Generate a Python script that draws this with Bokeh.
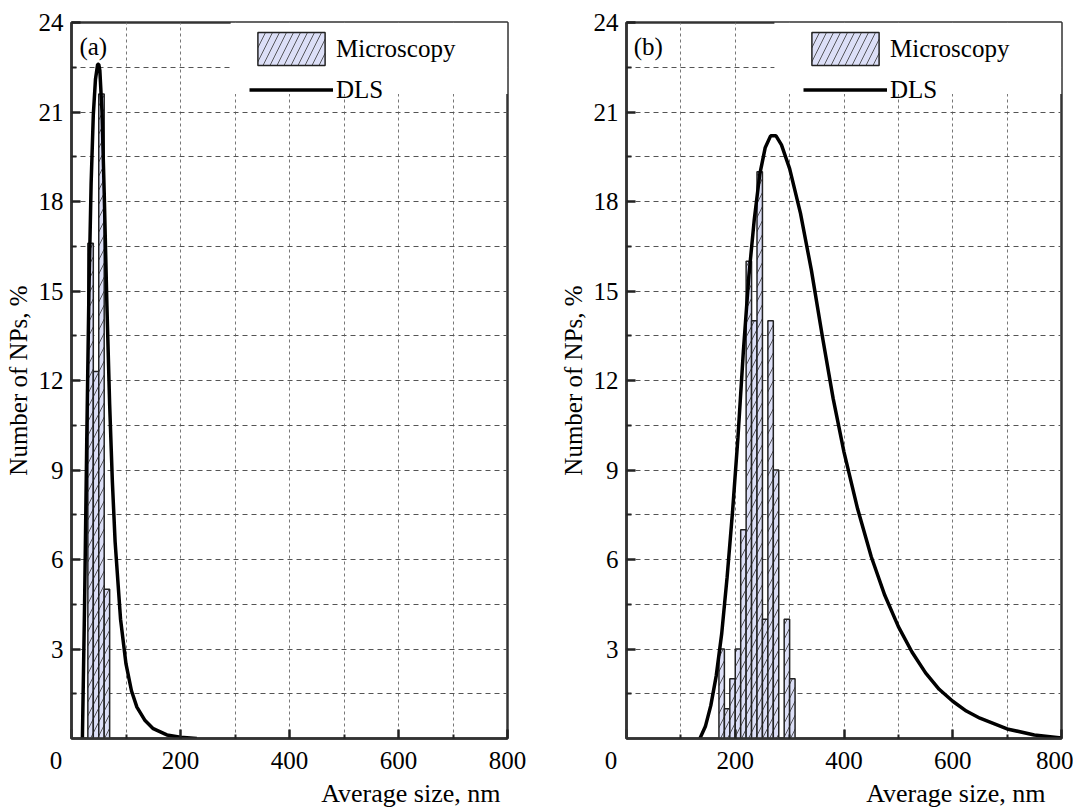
from bokeh.plotting import figure
from bokeh.layouts import row
from bokeh.models import Range1d, FixedTicker, Label, Legend, LegendItem, Title, BoxAnnotation
from bokeh.embed import file_html
from bokeh.resources import INLINE

# ---------------- data ----------------
# Panel (a): microscopy histogram (bin centres, nm) and DLS distribution
a_bin_centers = [35, 45, 55, 65]
a_counts = [16.6, 12.3, 21.6, 5.0]
a_dls_size = [20, 24, 28, 32, 36, 40, 44, 48, 50, 52, 56, 60, 65, 70, 75, 80,
              90, 100, 110, 120, 135, 150, 175, 200, 230]
a_dls_pct = [0, 4.5, 10.0, 15.0, 18.6, 20.9, 22.1, 22.6, 22.6, 22.4, 21.0, 18.3,
             14.5, 11.2, 8.6, 6.6, 4.0, 2.5, 1.6, 1.05, 0.6, 0.33, 0.12, 0.04, 0]

# Panel (b)
b_bin_centers = [175, 185, 195, 205, 215, 225, 235, 245, 255, 265, 275, 285, 295, 305]
b_counts = [3, 1, 2, 3, 7, 16, 14, 19, 4, 14, 9, 0, 4, 2]
b_dls_size = [135, 145, 155, 165, 175, 185, 195, 205, 215, 225, 235, 245, 255, 265,
              275, 285, 300, 320, 340, 360, 380, 400, 425, 450, 475, 500, 525, 550,
              575, 600, 625, 650, 700, 750, 800]
b_dls_pct = [0, 0.4, 1.1, 2.1, 3.5, 5.4, 7.6, 10.1, 13.0, 15.5, 17.4, 18.9, 19.8, 20.2,
             20.2, 19.9, 19.1, 17.6, 15.7, 13.5, 11.4, 9.6, 7.7, 6.1, 4.8, 3.75, 2.9, 2.2,
             1.65, 1.25, 0.92, 0.68, 0.32, 0.12, 0.02]

x_ticks = [0, 200, 400, 600, 800]
x_tick_labels = ["0", "200", "400", "600", "800"]
x_minor_ticks = [100, 300, 500, 700]
y_ticks = [3, 6, 9, 12, 15, 18, 21, 24]
y_minor_ticks = [1.5, 4.5, 7.5, 10.5, 13.5, 16.5, 19.5, 22.5]

x_label = "Average size, nm"
y_label = "Number of NPs, %"
series_names = ["Microscopy", "DLS"]
panel_tags = ["(a)", "(b)"]

# ---------------- style ----------------
FONT = "Liberation Serif"
FS = "25px"
BAR_FILL = "#dcdff7"
BIN_WIDTH = 10
DARK = "#222222"
NBSP = "\u00a0"


def make_panel(centers, counts, dls_x, dls_y, tag, width, border_left, border_right,
               title_offset, mask_left):
    p = figure(width=width, height=807, output_backend="svg", toolbar_location=None,
               x_range=Range1d(0, 800), y_range=Range1d(0, 24),
               min_border_left=border_left, min_border_right=border_right,
               min_border_top=22, min_border_bottom=67)
    p.background_fill_color = "white"
    p.border_fill_color = "white"
    p.outline_line_color = "#333333"
    p.outline_line_width = 2.5
    p.outline_line_alpha = 1

    # grids
    p.xgrid.ticker = FixedTicker(ticks=x_minor_ticks + x_ticks[1:-1])
    p.xgrid.grid_line_color = "#777777"
    p.xgrid.grid_line_dash = "3 3"
    p.xgrid.grid_line_width = 1
    p.ygrid.ticker = FixedTicker(ticks=sorted(y_ticks[:-1] + y_minor_ticks))
    p.ygrid.grid_line_color = "#555555"
    p.ygrid.grid_line_dash = "5 4"
    p.ygrid.grid_line_width = 1

    # axes
    for ax in (p.xaxis[0], p.yaxis[0]):
        ax.axis_line_color = "#333333"
        ax.axis_line_width = 2.5
        ax.major_tick_line_color = DARK
        ax.minor_tick_line_color = DARK
        ax.major_tick_line_width = 2.5
        ax.minor_tick_line_width = 2
        ax.major_tick_out = 0
        ax.minor_tick_out = 0
        ax.major_label_text_font = FONT
        ax.major_label_text_font_size = FS
        ax.major_label_text_color = "black"
        ax.axis_label_text_font = FONT
        ax.axis_label_text_font_size = FS
        ax.axis_label_text_font_style = "normal"
        ax.axis_label_text_color = "black"

    xa = p.xaxis[0]
    xa.ticker = FixedTicker(ticks=x_ticks, minor_ticks=x_minor_ticks)
    xa.major_tick_in = 9
    xa.minor_tick_in = 4
    overrides = dict(zip(x_ticks, x_tick_labels))
    overrides[x_ticks[0]] = x_tick_labels[0] + NBSP * 5   # "0" sits left of the corner
    xa.major_label_overrides = overrides
    xa.major_label_standoff = 8

    ya = p.yaxis[0]
    ya.ticker = FixedTicker(ticks=y_ticks, minor_ticks=y_minor_ticks)
    ya.major_tick_in = 9
    ya.minor_tick_in = 5
    ya.major_label_standoff = 8
    ya.axis_label = y_label
    ya.axis_label_standoff = 4

    # x-axis title, right aligned under the tick labels
    p.add_layout(Title(text=x_label, align="right", offset=title_offset, standoff=0,
                       text_font=FONT, text_font_size="26px", text_font_style="normal",
                       text_color="black"), "below")

    bars = p.vbar(x=centers, top=counts, width=BIN_WIDTH, bottom=0,
                  fill_color=BAR_FILL, line_color=DARK, line_width=1.5,
                  hatch_pattern="/", hatch_color="#333333", hatch_weight=0.8,
                  hatch_scale=14)
    line = p.line(dls_x, dls_y, line_color="black", line_width=3.5)

    # white area behind the legend (hides the grid there)
    p.add_layout(BoxAnnotation(left=mask_left, bottom=21.6, fill_color="white",
                               fill_alpha=1, line_color=None))

    legend = Legend(items=[LegendItem(label=series_names[0], renderers=[bars]),
                           LegendItem(label=series_names[1], renderers=[line])],
                    location="top_right")
    legend.margin = 6
    legend.padding = 3
    legend.spacing = 0
    legend.glyph_width = 84
    legend.glyph_height = 41
    legend.label_standoff = 3
    legend.label_width = 165
    legend.border_line_color = None
    legend.background_fill_alpha = 0
    legend.label_text_font = FONT
    legend.label_text_font_size = FS
    legend.label_text_color = "black"
    p.add_layout(legend)

    p.add_layout(Label(x=40, y=23.2, text=tag, text_font=FONT, text_font_size=FS,
                       text_align="center", text_baseline="middle", text_color="black"))
    return p


p1 = make_panel(a_bin_centers, a_counts, a_dls_size, a_dls_pct, panel_tags[0],
                546, 71, 39, 7, 292)
p2 = make_panel(b_bin_centers, b_counts, b_dls_size, b_dls_pct, panel_tags[1],
                527, 80, 12, 16, 272)

layout = row(p1, p2)
open("out.html", "w").write(file_html(layout, INLINE))
